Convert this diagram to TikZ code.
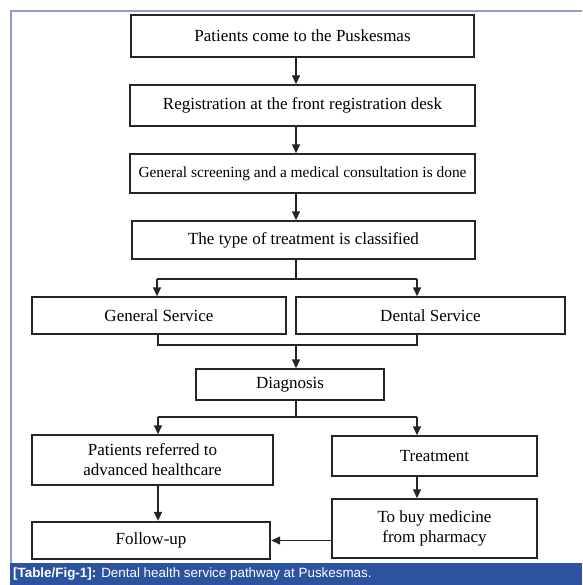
\documentclass[tikz,border=0pt]{standalone}
\usepackage{fontspec}
\setmainfont{Liberation Serif}
\newfontfamily\capfont{Liberation Sans}
\usepackage{tikz}
\usetikzlibrary{arrows.meta}
\definecolor{framegray}{RGB}{142,160,198}
\definecolor{capblue}{RGB}{44,82,160}
\tikzset{
  stepbox/.style = {rectangle, draw=black!85, line width=1.4pt, align=center,
    inner sep=0pt, font=\fontsize{17}{20}\selectfont},% one step of the pathway
  endbox/.style = {stepbox, line width=2.4pt},% last step, thick border
  link/.style = {draw=black!85, line width=1.4pt}% connector
}

\begin{document}
\begin{tikzpicture}[x=1pt,y=-1pt,>={Triangle[length=9pt,width=8pt]}]
\useasboundingbox (0,0) rectangle (582,585);
% frame and caption bar
\draw[framegray, line width=1.5pt] (11,563) -- (11,11) -- (582,11);
\fill[capblue] (10,563) rectangle (582,585);
\node[anchor=west, text=white, inner sep=0pt,
  font=\capfont\fontsize{13.4}{16}\selectfont] (caption) at (13,574)
  {\textbf{[Table/Fig-1]:} Dental health service pathway at Puskesmas.};

% steps
\node[stepbox, minimum width=343pt, minimum height=42pt] (come) at (302.5,36)
  {Patients come to the Puskesmas};
\node[stepbox, minimum width=345pt, minimum height=41pt] (register) at (302.5,105.5)
  {Registration at the front registration desk};
\node[stepbox, minimum width=345pt, minimum height=39pt,
  font=\fontsize{15.4}{18}\selectfont] (screen) at (302.5,173.5)
  {General screening and a medical consultation is done};
\node[stepbox, minimum width=343pt, minimum height=38pt] (classify) at (303.5,240)
  {The type of treatment is classified};
\node[stepbox, minimum width=254pt, minimum height=37pt] (general) at (159,315.5)
  {General Service};
\node[stepbox, minimum width=269pt, minimum height=37pt] (dental) at (430.5,315.5)
  {Dental Service};
\node[stepbox, minimum width=188pt, minimum height=31pt] (diagnosis) at (290,384.5)
  {Diagnosis};
\node[stepbox, minimum width=241pt, minimum height=50pt] (referred) at (152.5,460)
  {Patients referred to\\advanced healthcare};
\node[stepbox, minimum width=205pt, minimum height=40pt] (treatment) at (434.5,456)
  {Treatment};
\node[stepbox, minimum width=205pt, minimum height=59pt] (medicine) at (434.5,528.5)
  {To buy medicine\\from pharmacy};
\node[endbox, minimum width=238pt, minimum height=37pt] (followup) at (151,540.5)
  {Follow-up};

% forks and joins
\coordinate (fork1) at (296,279);
\coordinate (fork1l) at (157,279);
\coordinate (fork1r) at (417,279);
\coordinate (join1) at (296,345);
\coordinate (join1l) at (158,345);
\coordinate (join1r) at (417,345);
\coordinate (fork2) at (296,417);
\coordinate (fork2l) at (158,417);
\coordinate (fork2r) at (417,417);

% connectors
\draw[link,->] (come.south -| fork1) -- (register.north -| fork1);
\draw[link,->] (register.south -| fork1) -- (screen.north -| fork1);
\draw[link,->] (screen.south -| fork1) -- (classify.north -| fork1);
\draw[link] (classify.south -| fork1) -- (fork1);
\draw[link] (fork1l) -- (fork1r);
\draw[link,->] (fork1l) -- (general.north -| fork1l);
\draw[link,->] (fork1r) -- (dental.north -| fork1r);
\draw[link] (general.south -| join1l) -- (join1l) -- (join1r) -- (dental.south -| join1r);
\draw[link,->] (join1) -- (diagnosis.north -| join1);
\draw[link] (diagnosis.south -| fork2) -- (fork2);
\draw[link] (fork2l) -- (fork2r);
\draw[link,->] (fork2l) -- (referred.north -| fork2l);
\draw[link,->] (fork2r) -- (treatment.north -| fork2r);
\draw[link,->] (referred.south -| fork2l) -- (followup.north -| fork2l);
\draw[link,->] (treatment.south -| fork2r) -- (medicine.north -| fork2r);
\draw[link,->] (medicine.west |- followup) -- (followup.east);
\end{tikzpicture}
\end{document}
